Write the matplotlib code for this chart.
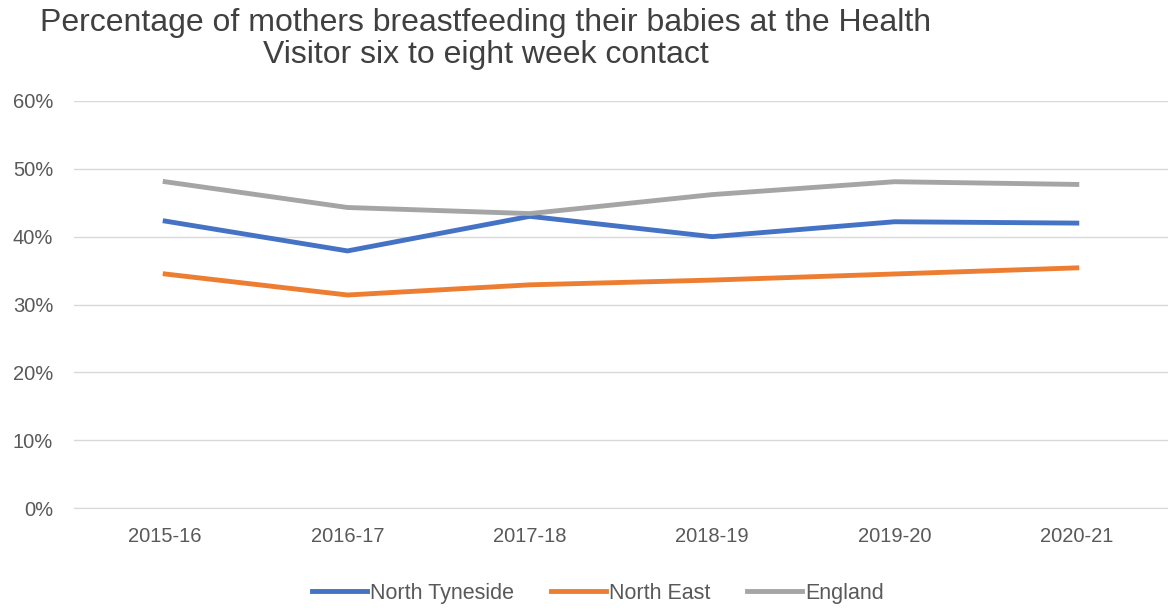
import matplotlib.pyplot as plt
import numpy as np

plt.rcParams['font.family'] = ['Liberation Sans', 'DejaVu Sans']

years = ['2015-16', '2016-17', '2017-18', '2018-19', '2019-20', '2020-21']
north_tyneside = [42.3, 37.9, 43.0, 40.0, 42.2, 42.0]
north_east = [34.5, 31.4, 32.9, 33.6, 34.5, 35.4]
england = [48.1, 44.3, 43.4, 46.2, 48.1, 47.7]

fig = plt.figure(figsize=(11.68, 6.10), dpi=100)
ax = fig.add_axes([74 / 1168, 1 - 508 / 610, (1168 - 74) / 1168, (508 - 101) / 610])

x = np.arange(len(years))
ax.plot(x, north_tyneside, color='#4472C4', lw=3.5, label='North Tyneside')
ax.plot(x, north_east, color='#ED7D31', lw=3.5, label='North East')
ax.plot(x, england, color='#A5A5A5', lw=3.5, label='England')

ax.set_xlim(-0.5, len(years) - 0.5)
ax.set_ylim(0, 60)
ax.set_yticks(range(0, 61, 10))
ax.set_yticklabels([f'{v}%' for v in range(0, 61, 10)])
ax.set_xticks(x)
ax.set_xticklabels(years)
ax.grid(axis='y', color='#D9D9D9', lw=1)
ax.set_axisbelow(True)
for s in ['top', 'right', 'left']:
    ax.spines[s].set_visible(False)
ax.spines['bottom'].set_color('#D9D9D9')
ax.tick_params(length=0, labelsize=14.5, colors='#595959')
ax.tick_params(axis='x', pad=14)
ax.tick_params(axis='y', pad=15)

fig.text(486 / 1168, 1 - 39 / 610,
         'Percentage of mothers breastfeeding their babies at the Health\nVisitor six to eight week contact',
         ha='center', va='center', fontsize=23, color='#404040', linespacing=1.1)

ax.legend(loc='center', bbox_to_anchor=(0.479, -0.21), ncol=3, frameon=False,
          fontsize=15.5, labelcolor='#595959', handlelength=2.55, handletextpad=0.15,
          columnspacing=1.7)

fig.savefig('out.png', dpi=100)
